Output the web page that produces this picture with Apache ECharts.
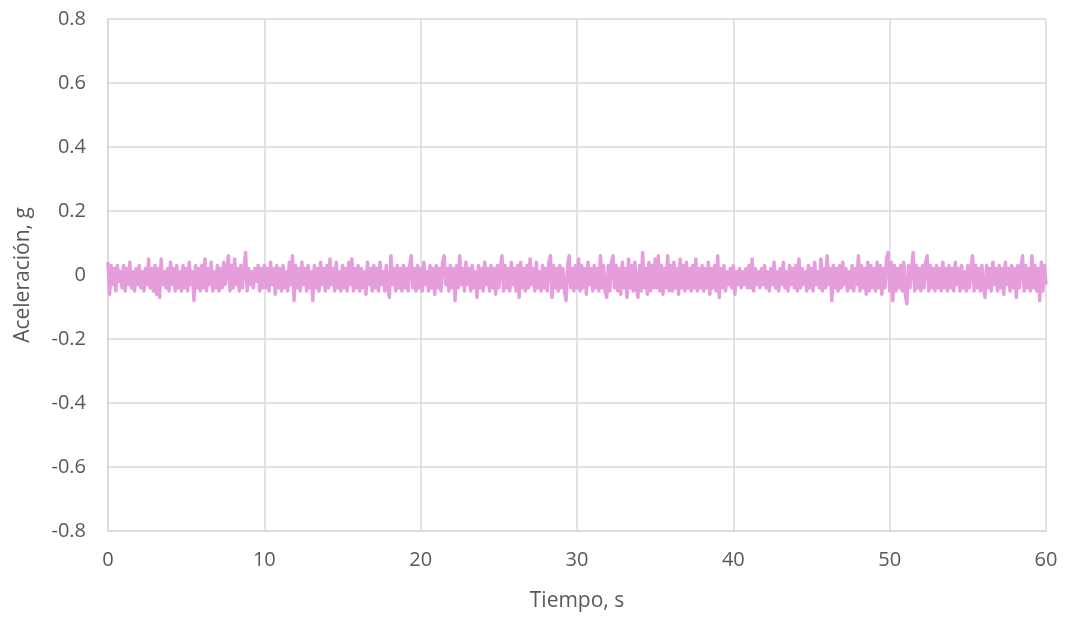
<!DOCTYPE html>
<html>
<head>
<meta charset="utf-8">
<script src="https://cdn.jsdelivr.net/npm/echarts@6/dist/echarts.min.js"></script>
<style>html,body{margin:0;padding:0;background:#fff}#c{width:1065px;height:620px}</style>
</head>
<body>
<div id="c"></div>
<script>
// Time step of the samples (s) and axis ticks
const timeStep = 0.1;
const xTicks = [0, 10, 20, 30, 40, 50, 60];
const yTicks = [-0.8, -0.6, -0.4, -0.2, 0, 0.2, 0.4, 0.6, 0.8];
// Acceleration values (g), 0.1 s apart, 0 s to 60 s
const acceleration = [
 0.04,-0.06,0.03,-0.03,0.02,-0.05,0.03,-0.02,0.01,-0.04,
 0.03,-0.05,0.02,-0.03,0.04,-0.04,0.01,-0.05,0.02,-0.03,
 0.03,-0.04,0.01,-0.05,0.02,-0.03,0.05,-0.04,0.02,-0.05,
 0.03,-0.06,0.02,-0.07,0.05,-0.03,0.01,-0.04,0.02,-0.05,
 0.04,-0.03,0.02,-0.05,0.03,-0.04,0.01,-0.05,0.03,-0.04,
 0.02,-0.05,0.04,-0.03,0.01,-0.08,0.03,-0.04,0.02,-0.05,
 0.03,-0.04,0.05,-0.05,0.02,-0.03,0.04,-0.05,0.01,-0.04,
 0.03,-0.05,0.02,-0.04,0.04,-0.03,0.01,0.06,-0.05,0.03,
 -0.04,0.05,-0.03,0.02,-0.05,0.03,-0.04,0.02,0.07,-0.05,
 0.02,-0.03,0.01,-0.04,0.02,-0.02,0.03,-0.05,0.02,-0.04,
 0.03,-0.04,0.02,-0.05,0.04,-0.03,0.02,-0.06,0.03,-0.04,
 0.02,-0.05,0.03,-0.04,0.01,-0.05,0.04,-0.03,0.06,-0.08,
 0.03,-0.04,0.02,-0.05,0.04,-0.03,0.02,-0.05,0.03,-0.04,
 0.01,-0.08,0.03,-0.04,0.02,-0.05,0.04,-0.03,0.02,-0.05,
 0.03,-0.04,0.05,-0.03,0.02,-0.05,0.04,-0.04,0.01,-0.05,
 0.03,-0.04,0.02,-0.05,0.04,-0.03,0.05,-0.05,0.02,-0.04,
 0.03,-0.05,0.02,-0.04,0.01,-0.06,0.04,-0.03,0.02,-0.05,
 0.03,-0.04,0.02,-0.05,0.04,-0.03,0.01,-0.05,0.03,-0.04,
 -0.07,0.06,-0.03,0.02,-0.05,0.03,-0.04,0.02,-0.05,0.03,
 -0.04,0.02,-0.05,0.03,0.06,-0.04,0.02,-0.05,0.03,-0.04,
 0.02,-0.05,0.04,-0.03,0.01,-0.05,0.03,-0.04,0.02,-0.06,
 0.03,-0.04,0.02,-0.05,0.04,0.06,-0.03,0.02,-0.05,0.03,
 -0.04,0.02,-0.08,0.03,-0.04,0.06,-0.03,0.02,-0.05,0.04,
 -0.03,0.02,-0.05,0.03,-0.04,0.01,-0.07,0.03,-0.04,0.02,
 -0.05,0.04,-0.03,0.02,-0.05,0.03,-0.04,0.02,-0.06,0.03,
 -0.04,0.02,0.06,-0.05,0.03,-0.04,0.02,-0.05,0.04,-0.03,
 0.02,-0.05,0.03,-0.07,0.04,-0.04,0.02,-0.05,0.03,-0.04,
 0.05,-0.03,0.02,-0.05,0.04,-0.04,0.01,-0.05,0.03,-0.04,
 0.02,-0.05,0.04,0.06,-0.07,0.03,-0.04,0.02,-0.05,0.03,
 -0.04,0.02,-0.05,-0.08,0.03,0.06,-0.04,0.02,-0.05,0.03,
 -0.04,0.05,-0.05,0.03,-0.04,0.02,-0.06,0.04,-0.03,0.02,
 -0.05,0.03,-0.04,0.02,-0.05,0.06,-0.04,0.03,-0.05,-0.07,
 0.03,-0.05,0.04,0.06,-0.04,0.03,-0.05,0.02,-0.06,0.04,
 -0.04,0.02,-0.07,0.05,-0.04,0.03,-0.05,0.04,-0.04,-0.07,
 0.03,-0.05,0.07,-0.04,0.02,-0.06,0.04,-0.05,0.03,-0.04,
 0.05,-0.04,0.06,-0.05,0.03,-0.06,0.02,-0.04,0.06,-0.05,
 0.03,-0.05,0.04,-0.04,0.02,-0.06,0.05,-0.04,0.03,-0.05,
 0.04,-0.04,0.02,-0.05,0.03,-0.04,0.05,-0.05,0.02,-0.04,
 0.03,-0.05,0.02,-0.04,0.04,-0.06,0.02,-0.04,0.03,-0.05,
 0.06,-0.07,0.02,-0.04,0.03,-0.05,0.01,-0.03,0.02,-0.04,
 0.03,-0.06,0.01,-0.03,0.02,-0.04,0.01,-0.03,0.02,-0.04,
 0.03,-0.04,0.05,-0.05,0.02,-0.03,0.01,-0.04,0.02,-0.03,
 0.03,-0.04,0.01,-0.05,0.02,-0.03,0.04,-0.04,0.01,-0.05,
 0.02,-0.03,0.04,-0.04,0.01,-0.05,0.03,-0.03,0.02,-0.04,
 0.03,-0.05,0.05,-0.04,0.02,-0.03,0.01,-0.05,0.03,-0.04,
 0.02,-0.05,0.04,-0.03,0.01,-0.04,0.05,-0.05,0.02,-0.04,
 0.06,-0.03,0.02,-0.08,0.03,-0.04,0.02,-0.05,0.03,-0.04,
 0.04,-0.03,0.02,-0.05,0.01,-0.04,0.03,-0.05,0.02,-0.03,
 0.06,-0.05,0.03,-0.04,0.02,-0.06,0.04,-0.05,0.03,-0.04,
 0.02,-0.05,0.04,-0.04,0.03,-0.06,0.02,-0.04,0.05,0.07,
 -0.05,0.04,-0.08,0.03,-0.05,0.02,-0.04,0.03,-0.05,0.04,
 -0.06,-0.09,0.03,-0.04,0.02,0.07,-0.05,0.03,-0.04,0.02,
 -0.05,0.03,-0.04,0.04,0.06,-0.05,0.03,-0.04,0.02,-0.05,
 0.03,-0.04,0.02,-0.05,0.04,-0.04,0.02,-0.05,0.03,-0.04,
 0.02,-0.05,0.04,-0.03,0.02,-0.05,0.03,-0.04,0.01,-0.05,
 0.03,-0.04,0.02,0.06,-0.05,0.03,-0.04,0.02,-0.05,0.03,
 -0.04,-0.07,0.03,-0.04,0.02,-0.05,0.04,-0.03,0.02,-0.05,
 0.03,-0.04,0.02,-0.06,0.04,-0.03,0.02,-0.05,0.03,-0.04,
 0.02,-0.07,0.03,-0.04,0.02,0.06,-0.05,0.03,-0.04,0.02,
 -0.05,0.06,-0.04,0.03,-0.05,0.02,-0.08,0.04,-0.05,0.03,
 -0.03
];
const xName = 'Tiempo, s';
const yName = 'Aceleración, g';

const seriesData = acceleration.map((v, i) => [+(i * timeStep).toFixed(1), v]);
const textColor = '#595959';
const gridColor = '#d9d9d9';
const font = 'Open Sans, Lato, sans-serif';

const chart = echarts.init(document.getElementById('c'), null, {renderer: 'canvas'});
chart.setOption({
  animation: false,
  backgroundColor: '#ffffff',
  grid: {left: 108, right: 19, top: 19, bottom: 89, containLabel: false, outerBoundsMode: 'none'},
  xAxis: {
    type: 'value',
    min: xTicks[0], max: xTicks[xTicks.length - 1], interval: 10,
    name: xName, nameLocation: 'middle', nameGap: 60,
    nameTextStyle: {color: textColor, fontSize: 21, fontFamily: font},
    axisLine: {show: true, onZero: false, lineStyle: {color: gridColor, width: 1.5}},
    axisTick: {show: false},
    axisLabel: {color: textColor, fontSize: 20, fontFamily: font, margin: 19},
    splitLine: {show: true, lineStyle: {color: gridColor, width: 1.5}}
  },
  yAxis: {
    type: 'value',
    min: yTicks[0], max: yTicks[yTicks.length - 1], interval: 0.2,
    name: yName, nameLocation: 'middle', nameGap: 74,
    nameTextStyle: {color: textColor, fontSize: 21, fontFamily: font},
    axisLine: {show: true, lineStyle: {color: gridColor, width: 1.5}},
    axisTick: {show: false},
    axisLabel: {color: textColor, fontSize: 20, fontFamily: font, margin: 22,
      formatter: v => Math.abs(v) < 1e-9 ? '0' : (+v).toFixed(1)},
    splitLine: {show: true, lineStyle: {color: gridColor, width: 1.5}}
  },
  series: [{
    type: 'line',
    data: seriesData,
    showSymbol: false,
    lineStyle: {color: '#E59EDB', width: 3.5, join: 'round'},
    itemStyle: {color: '#E59EDB'}
  }]
});
</script>
</body>
</html>
